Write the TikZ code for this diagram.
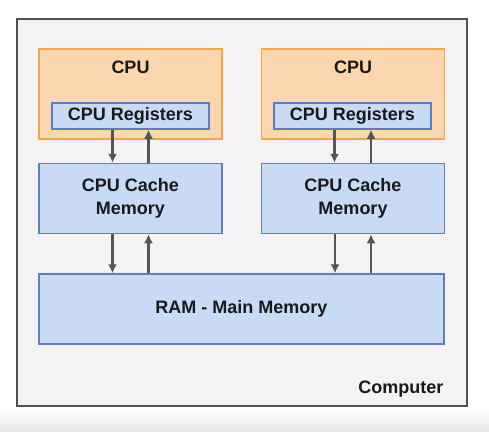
\documentclass[tikz,border=0pt]{standalone}
\usepackage{fontspec}
\setmainfont{Liberation Sans}
\usetikzlibrary{arrows.meta}
\definecolor{cpufill}{RGB}{252,214,172}
\definecolor{cpuline}{RGB}{240,168,72}
\definecolor{memfill}{RGB}{200,218,244}
\definecolor{memline}{RGB}{96,126,190}
\definecolor{pcfill}{RGB}{244,242,244}
\definecolor{pcline}{RGB}{80,80,80}
\definecolor{arrowgrey}{RGB}{85,85,85}
\begin{document}
\begin{tikzpicture}[>={Latex[length=9pt,width=9pt]}, x=1pt, y=-1pt,
    txt/.style={font=\bfseries\fontsize{18}{23}\selectfont, text=black!90},
    cpubox/.style={draw=cpuline, fill=cpufill, line width=1.8pt, minimum width=183pt, minimum height=90pt, inner sep=0pt},
    membox/.style={txt, draw=memline, fill=memfill, line width=1.5pt, inner sep=0pt, align=center},
    link/.style={->, draw=arrowgrey, line width=2.4pt}]
        \useasboundingbox (0,0) rectangle (489,431);
        \fill[top color=white, bottom color=black!9] (0,409) rectangle (489,431);
        % computer frame
        \node[draw=pcline, fill=pcfill, line width=2pt, minimum width=450pt, minimum height=387pt] (pc) at (242,212.5) {};
        \node[txt, anchor=east] (pclabel) at (447,389) {Computer};
        % left cpu
        \node[cpubox] (cpuL) at (130.5,94) {};
        \node[txt] (cpuLlabel) at (130.5,67) {CPU};
        \node[membox, minimum width=157pt, minimum height=26pt] (regL) at (130.5,116) {CPU Registers};
        \node[membox, minimum width=183pt, minimum height=70pt] (cacheL) at (130.5,198.5) {CPU Cache\\Memory};
        % right cpu
        \node[cpubox] (cpuR) at (353,94) {};
        \node[txt] (cpuRlabel) at (353,67) {CPU};
        \node[membox, minimum width=157pt, minimum height=26pt] (regR) at (352.5,116) {CPU Registers};
        \node[membox, minimum width=183pt, minimum height=70pt] (cacheR) at (353,198.5) {CPU Cache\\Memory};
        % main memory
        \node[membox, minimum width=405pt, minimum height=70pt] (ram) at (241.5,309) {RAM - Main Memory};
        % links
        \draw[link] ([xshift=-18pt]regL.south) -- ([xshift=-18pt]regL.south |- cacheL.north);
        \draw[link] ([xshift=18pt]cacheL.north) -- ([xshift=18pt]cacheL.north |- regL.south);
        \draw[link] ([xshift=-18pt]regR.south) -- ([xshift=-18pt]regR.south |- cacheR.north);
        \draw[link] ([xshift=18pt]cacheR.north) -- ([xshift=18pt]cacheR.north |- regR.south);
        \draw[link] ([xshift=-18pt]cacheL.south) -- ([xshift=-18pt]cacheL.south |- ram.north);
        \draw[link] ([xshift=18pt]cacheL.south |- ram.north) -- ([xshift=18pt]cacheL.south);
        \draw[link] ([xshift=-18pt]cacheR.south) -- ([xshift=-18pt]cacheR.south |- ram.north);
        \draw[link] ([xshift=18pt]cacheR.south |- ram.north) -- ([xshift=18pt]cacheR.south);
    \end{tikzpicture}
\end{document}
